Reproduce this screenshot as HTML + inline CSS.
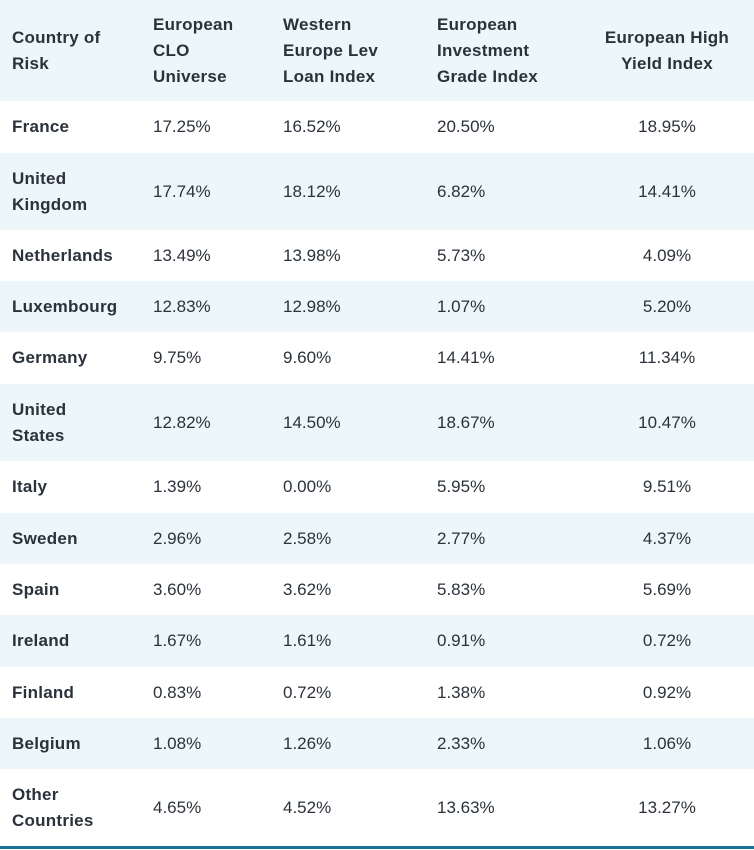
<!DOCTYPE html><html><head><style>
body{margin:0;width:754px;height:850px;background:#fff;font-family:"Liberation Sans",sans-serif;color:#2b323b;position:relative;overflow:hidden}
.r{position:absolute;left:0;width:754px}
.c{position:absolute;top:0;height:100%;display:flex;align-items:center;font-size:17px;line-height:26px}
.b{font-weight:bold;letter-spacing:0.25px}
.l{background:#edf6f9}
</style></head><body>
<div class="r l" style="top:0;height:101px">
<div class="c b" style="left:12px">Country of<br>Risk</div>
<div class="c b" style="left:153px">European<br>CLO<br>Universe</div>
<div class="c b" style="left:283px">Western<br>Europe Lev<br>Loan Index</div>
<div class="c b" style="left:437px">European<br>Investment<br>Grade Index</div>
<div class="c b" style="left:587px;width:160px;justify-content:center;text-align:center">European High<br>Yield Index</div>
</div>
<div id="rows"></div>
<div style="position:absolute;left:0;top:846px;width:754px;height:3px;background:#1a6f94"></div>
<script>
var d=[["France","17.25%","16.52%","20.50%","18.95%",101,52],
["United<br>Kingdom","17.74%","18.12%","6.82%","14.41%",153,77],
["Netherlands","13.49%","13.98%","5.73%","4.09%",230,51],
["Luxembourg","12.83%","12.98%","1.07%","5.20%",281,51],
["Germany","9.75%","9.60%","14.41%","11.34%",332,52],
["United<br>States","12.82%","14.50%","18.67%","10.47%",384,77],
["Italy","1.39%","0.00%","5.95%","9.51%",461,52],
["Sweden","2.96%","2.58%","2.77%","4.37%",513,51],
["Spain","3.60%","3.62%","5.83%","5.69%",564,51],
["Ireland","1.67%","1.61%","0.91%","0.72%",615,52],
["Finland","0.83%","0.72%","1.38%","0.92%",667,51],
["Belgium","1.08%","1.26%","2.33%","1.06%",718,51],
["Other<br>Countries","4.65%","4.52%","13.63%","13.27%",769,77]];
var h="";d.forEach(function(r,i){h+='<div class="r'+(i%2?' l':'')+'" style="top:'+r[5]+'px;height:'+r[6]+'px">'+
'<div class="c b" style="left:12px">'+r[0]+'</div><div class="c" style="left:153px">'+r[1]+'</div><div class="c" style="left:283px">'+r[2]+'</div><div class="c" style="left:437px">'+r[3]+'</div><div class="c" style="left:587px;width:160px;justify-content:center">'+r[4]+'</div></div>';});
document.getElementById("rows").innerHTML=h;
</script>
</body></html>
